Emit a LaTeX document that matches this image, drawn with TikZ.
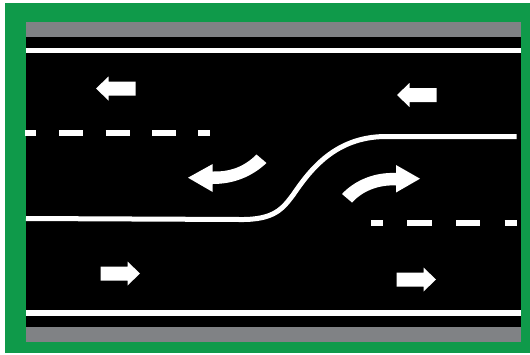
\documentclass[tikz,border=0pt]{standalone}
\definecolor{verge}{HTML}{0F9A4A}
\definecolor{shoulder}{HTML}{808285}
\tikzset{
    lane/.style={white,line width=5.5pt},
    centre/.style={white,line width=5pt},
    lanearrow/.style={fill=white}
}
\begin{document}
\begin{tikzpicture}[x=1pt,y=-1pt]
    \useasboundingbox (0,0) rectangle (530,354);
    \fill[verge] (4.5,2.5) rectangle (530,352.5);
    \fill[black] (26,22) rectangle (521,342);
    \fill[shoulder] (26,22) rectangle (521,37);
    \fill[shoulder] (26,326.5) rectangle (521,342);
    \draw[lane] (26,50.5) -- (521,50.5);
    \draw[lane] (26,313) -- (521,313);
    % lane dividers
    \foreach \x/\l in {25/11,59/24,105.5/24,152/23.5,198/12} \draw[lane] (\x,132.8) -- ++(\l,0);
    \foreach \x/\l in {371/12,407/24.5,456/24,504.5/12} \draw[lane] (\x,223) -- ++(\l,0);
    \draw[centre] (26,218.5) -- (240,219.5) .. controls (275,220) and (283,208) .. (293,195)
        .. controls (310,170) and (335,137) .. (385,136.5) -- (516.5,136.5);
    % straight arrows, tip first
    \foreach \x/\y/\s in {96/88.5/1,397/95/1,140/273.5/-1,436/279.5/-1}
        \fill[lanearrow,shift={(\x,\y)},xscale=\s] (0,0) -- (12.5,-12) -- (12.5,-7) -- (39.5,-7)
            -- (39.5,7) -- (12.5,7) -- (12.5,12) -- cycle;
    % curved arrows
    \fill[lanearrow] (188,177.7) -- (212.7,164) -- (212.7,171.5) .. controls (228,172) and (243,168) .. (256.5,154.5)
        -- (266.5,163) .. controls (252,176.5) and (234,184) .. (212.7,184) -- (212.7,192) -- cycle;
    \fill[lanearrow] (420,178.7) -- (396,165) -- (396,173) .. controls (375,172) and (355,180) .. (342,194)
        -- (352,202.5) .. controls (362,191.5) and (378,184.5) .. (396,185.5) -- (396,192.5) -- cycle;
\end{tikzpicture}
\end{document}
